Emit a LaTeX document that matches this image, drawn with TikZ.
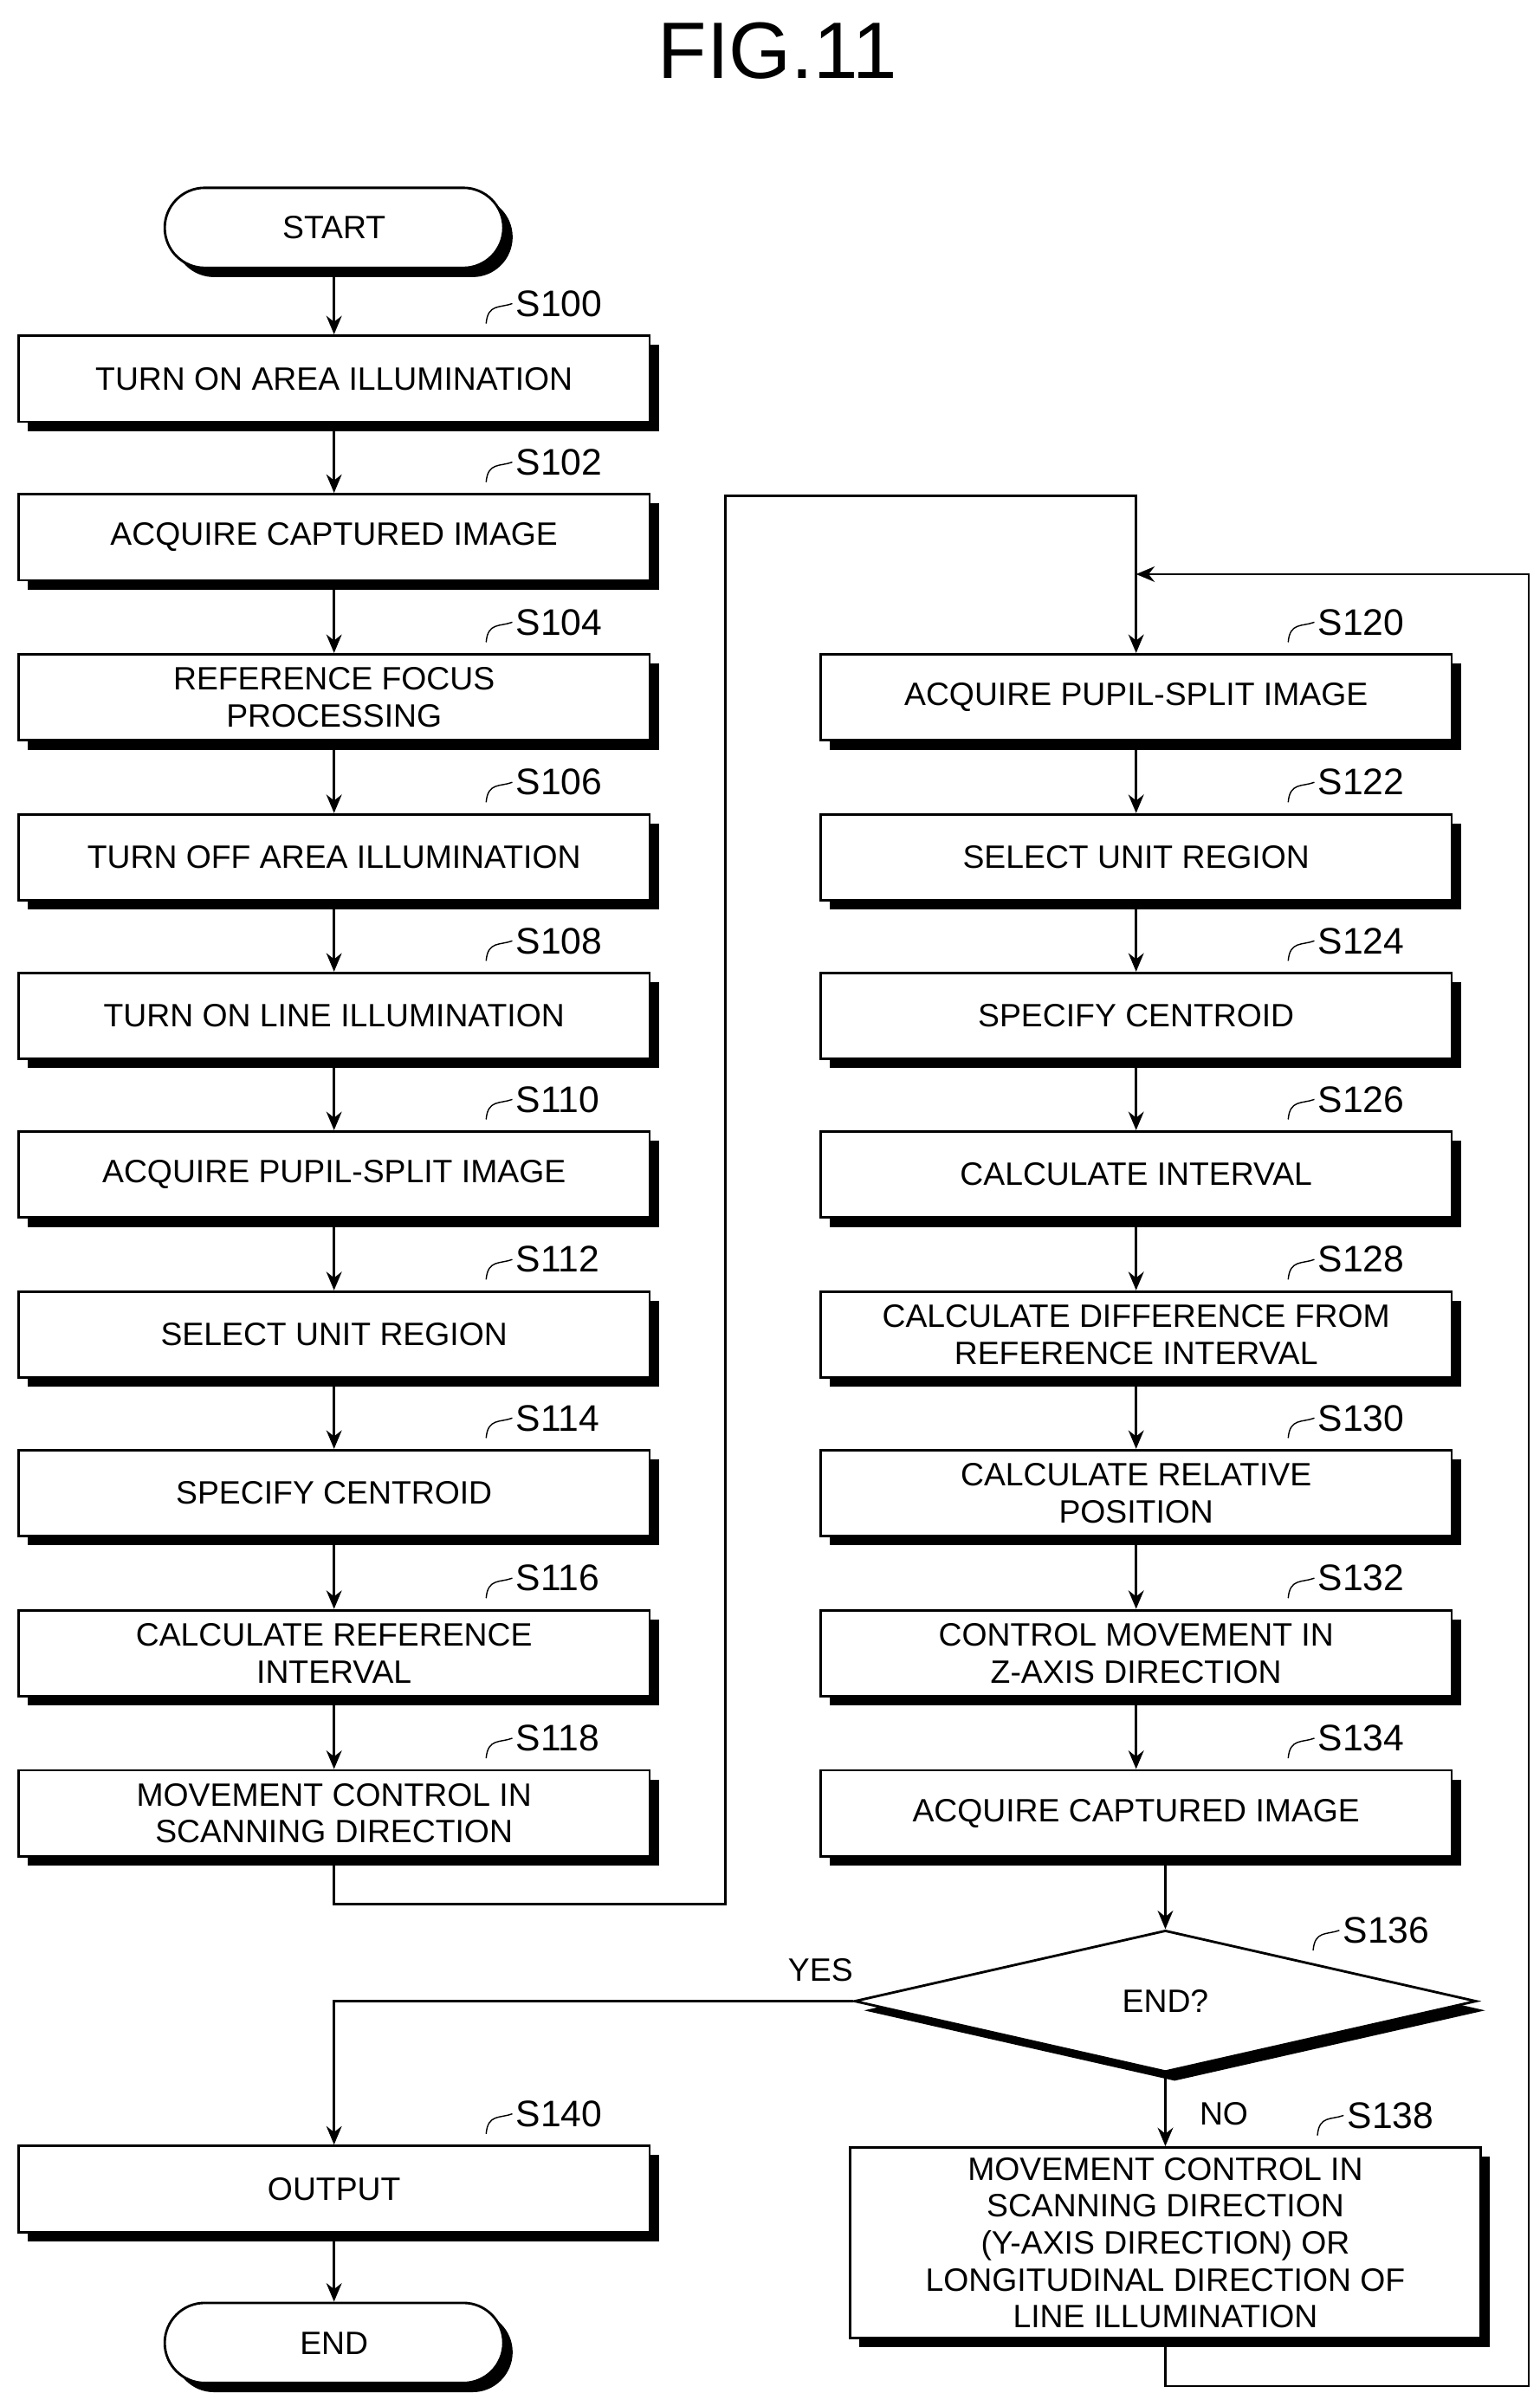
\documentclass[tikz,border=0pt]{standalone}
\usepackage{fontspec}
\setmainfont{Liberation Sans}
\usetikzlibrary{shapes.geometric,shadows,calc,arrows.meta}
\begin{document}
\begin{tikzpicture}[x=0.5pt,y=-0.5pt,
 sh/.style={drop shadow={shadow xshift=3pt,shadow yshift=-3pt,fill=black,opacity=1}},
 box/.style={draw,thick,fill=white,sh,minimum width=205pt,minimum height=28pt,align=center,font=\fontsize{10.5}{12}\selectfont,inner sep=1pt},
 term/.style={draw,thick,fill=white,sh,rounded corners=13pt,minimum width=110pt,minimum height=26pt,font=\fontsize{10.5}{12}\selectfont},
 dia/.style={draw,thick,fill=white,sh,diamond,aspect=4.4,inner sep=0pt,minimum width=202pt,minimum height=46pt,font=\fontsize{10.5}{12}\selectfont},
 slab/.style={font=\fontsize{12}{14}\selectfont,anchor=west,inner sep=1pt},
 arr/.style={thick,-{Stealth[length=6pt,width=5pt]}},
 ln/.style={thick}]
\useasboundingbox (0,0) rectangle (1000,1563);
\node[font=\fontsize{26}{30}\selectfont] (title) at (505,33) {FIG.11};
\newcommand{\slab}[3]{\node[slab] (#1) at ($(#2.north east)+(-90,-20)$) {#3};
 \draw ($(#1.west)+(-17,13)$) .. controls ($(#1.west)+(-16,0)$) and ($(#1.west)+(-8,3)$) .. (#1.west);}
\node[term] (start) at (217,148) {START};
\node[box] (b100) at (217,246) {TURN ON AREA ILLUMINATION};
\node[box] (b102) at (217,349) {ACQUIRE CAPTURED IMAGE};
\node[box] (b104) at (217,453) {REFERENCE FOCUS\\PROCESSING};
\node[box] (b106) at (217,557) {TURN OFF AREA ILLUMINATION};
\node[box] (b108) at (217,660) {TURN ON LINE ILLUMINATION};
\node[box] (b110) at (217,763) {ACQUIRE PUPIL-SPLIT IMAGE};
\node[box] (b112) at (217,867) {SELECT UNIT REGION};
\node[box] (b114) at (217,970) {SPECIFY CENTROID};
\node[box] (b116) at (217,1074) {CALCULATE REFERENCE\\INTERVAL};
\node[box] (b118) at (217,1178) {MOVEMENT CONTROL IN\\SCANNING DIRECTION};
\node[box] (b120) at (738,453) {ACQUIRE PUPIL-SPLIT IMAGE};
\node[box] (b122) at (738,557) {SELECT UNIT REGION};
\node[box] (b124) at (738,660) {SPECIFY CENTROID};
\node[box] (b126) at (738,763) {CALCULATE INTERVAL};
\node[box] (b128) at (738,867) {CALCULATE DIFFERENCE FROM\\REFERENCE INTERVAL};
\node[box] (b130) at (738,970) {CALCULATE RELATIVE\\POSITION};
\node[box] (b132) at (738,1074) {CONTROL MOVEMENT IN\\Z-AXIS DIRECTION};
\node[box] (b134) at (738,1178) {ACQUIRE CAPTURED IMAGE};
\node[dia] (d136) at (757,1300) {END?};
\node[box,minimum height=62pt] (b138) at (757,1457) {MOVEMENT CONTROL IN\\SCANNING DIRECTION\\(Y-AXIS DIRECTION) OR\\LONGITUDINAL DIRECTION OF\\LINE ILLUMINATION};
\node[box] (b140) at (217,1422) {OUTPUT};
\node[term] (end) at (217,1522) {END};
\slab{s100}{b100}{S100}\slab{s102}{b102}{S102}\slab{s104}{b104}{S104}
\slab{s106}{b106}{S106}\slab{s108}{b108}{S108}\slab{s110}{b110}{S110}
\slab{s112}{b112}{S112}\slab{s114}{b114}{S114}\slab{s116}{b116}{S116}
\slab{s118}{b118}{S118}\slab{s120}{b120}{S120}\slab{s122}{b122}{S122}
\slab{s124}{b124}{S124}\slab{s126}{b126}{S126}\slab{s128}{b128}{S128}
\slab{s130}{b130}{S130}\slab{s132}{b132}{S132}\slab{s134}{b134}{S134}
\slab{s138}{b138}{S138}\slab{s140}{b140}{S140}
\node[slab] (s136) at (870,1254) {S136};
\draw ($(s136.west)+(-17,13)$) .. controls ($(s136.west)+(-16,0)$) and ($(s136.west)+(-8,3)$) .. (s136.west);
\draw[arr] (start) -- (b100);
\foreach \a/\b in {b100/b102,b102/b104,b104/b106,b106/b108,b108/b110,b110/b112,b112/b114,b114/b116,b116/b118,b120/b122,b122/b124,b124/b126,b126/b128,b128/b130,b130/b132,b132/b134}
  \draw[arr] (\a) -- (\b);
\draw[arr] (b118.south) -- (217,1237) -- (471,1237) -- (471,322) -- (738,322) -- (b120.north);
\draw[arr] (b134.south -| d136.north) -- (d136.north);
\draw[arr] (d136.west) -- (217,1300) -- (b140.north);
\node[font=\fontsize{10.5}{12}\selectfont] (yes) at (533,1280) {YES};
\draw[arr] (d136.south) -- (b138.north);
\node[font=\fontsize{10.5}{12}\selectfont] (no) at (795,1373) {NO};
\coordinate (lp) at (738,373);
\draw[arr] (b138.south) -- (757,1550) -- (993,1550) -- (993,373) -- (lp);
\draw[arr] (b140) -- (end);
\end{tikzpicture}
\end{document}
